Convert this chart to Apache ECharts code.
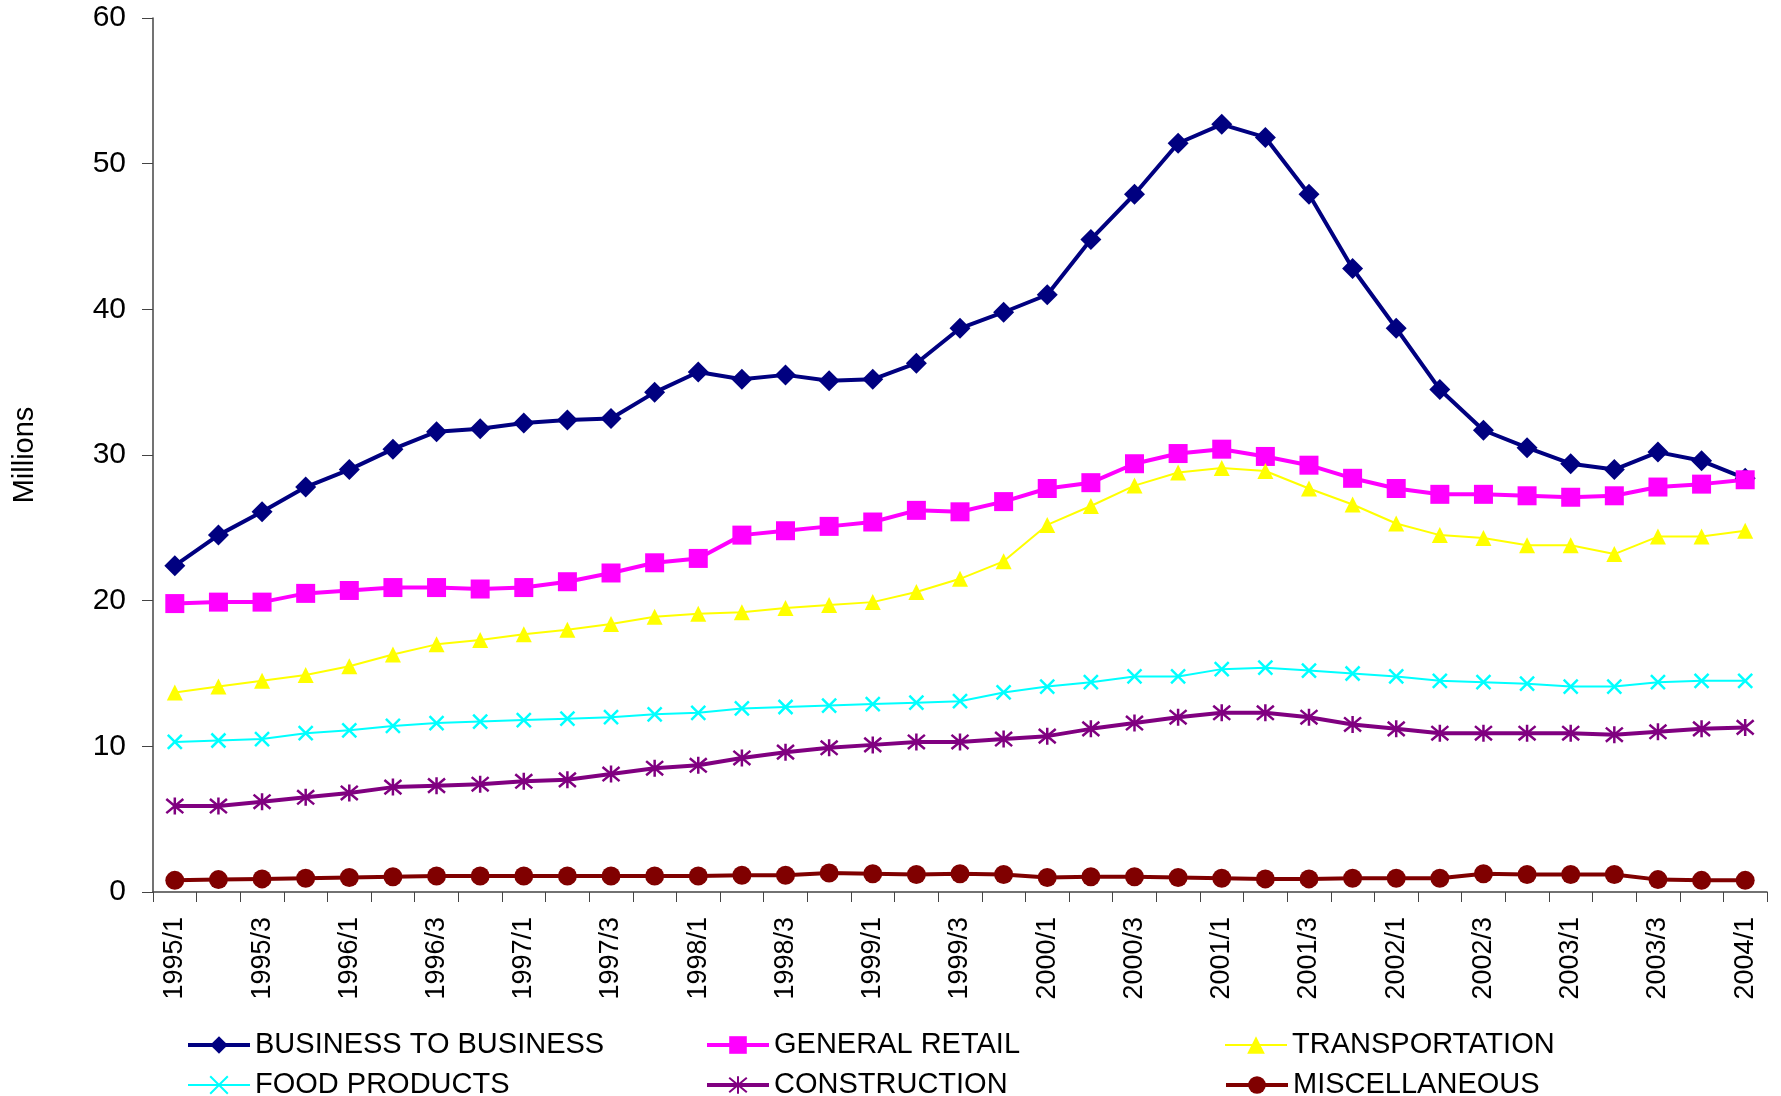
<!DOCTYPE html>
<html>
<head>
<meta charset="utf-8">
<script src="https://cdn.jsdelivr.net/npm/echarts@6/dist/echarts.min.js"></script>
<style>
  html, body { margin: 0; padding: 0; background: #fff; }
  #chart { width: 1781px; height: 1096px; }
</style>
</head>
<body>
<div id="chart"></div>
<script>
const quarters = [
  '1995/1', '1995/2', '1995/3', '1995/4', '1996/1', '1996/2', '1996/3', '1996/4',
  '1997/1', '1997/2', '1997/3', '1997/4', '1998/1', '1998/2', '1998/3', '1998/4',
  '1999/1', '1999/2', '1999/3', '1999/4', '2000/1', '2000/2', '2000/3', '2000/4',
  '2001/1', '2001/2', '2001/3', '2001/4', '2002/1', '2002/2', '2002/3', '2002/4',
  '2003/1', '2003/2', '2003/3', '2003/4', '2004/1'
]

const businessToBusiness = [
  22.4, 24.5, 26.1, 27.8, 29.0, 30.4, 31.6, 31.8, 32.2, 32.4, 32.5, 34.3, 35.7,
  35.2, 35.5, 35.1, 35.2, 36.3, 38.7, 39.8, 41.0, 44.8, 47.9, 51.4, 52.7, 51.8,
  47.9, 42.8, 38.7, 34.5, 31.7, 30.5, 29.4, 29.0, 30.2, 29.6, 28.4
]
const generalRetail = [
  19.8, 19.9, 19.9, 20.5, 20.7, 20.9, 20.9, 20.8, 20.9, 21.3, 21.9, 22.6, 22.9,
  24.5, 24.8, 25.1, 25.4, 26.2, 26.1, 26.8, 27.7, 28.1, 29.4, 30.1, 30.4, 29.9,
  29.3, 28.4, 27.7, 27.3, 27.3, 27.2, 27.1, 27.2, 27.8, 28.0, 28.3
]
const transportation = [
  13.7, 14.1, 14.5, 14.9, 15.5, 16.3, 17.0, 17.3, 17.7, 18.0, 18.4, 18.9, 19.1,
  19.2, 19.5, 19.7, 19.9, 20.6, 21.5, 22.7, 25.2, 26.5, 27.9, 28.8, 29.1, 28.9,
  27.7, 26.6, 25.3, 24.5, 24.3, 23.8, 23.8, 23.2, 24.4, 24.4, 24.8
]
const foodProducts = [
  10.3, 10.4, 10.5, 10.9, 11.1, 11.4, 11.6, 11.7, 11.8, 11.9, 12.0, 12.2, 12.3,
  12.6, 12.7, 12.8, 12.9, 13.0, 13.1, 13.7, 14.1, 14.4, 14.8, 14.8, 15.3, 15.4,
  15.2, 15.0, 14.8, 14.5, 14.4, 14.3, 14.1, 14.1, 14.4, 14.5, 14.5
]
const construction = [
  5.9, 5.9, 6.2, 6.5, 6.8, 7.2, 7.3, 7.4, 7.6, 7.7, 8.1, 8.5, 8.7,
  9.2, 9.6, 9.9, 10.1, 10.3, 10.3, 10.5, 10.7, 11.2, 11.6, 12.0, 12.3, 12.3,
  12.0, 11.5, 11.2, 10.9, 10.9, 10.9, 10.9, 10.8, 11.0, 11.2, 11.3
]
const miscellaneous = [
  0.8, 0.85, 0.9, 0.95, 1.0, 1.05, 1.1, 1.1, 1.1, 1.1, 1.1, 1.1, 1.1,
  1.15, 1.15, 1.3, 1.25, 1.2, 1.25, 1.2, 1.0, 1.05, 1.05, 1.0, 0.95, 0.9,
  0.9, 0.95, 0.95, 0.95, 1.25, 1.2, 1.2, 1.2, 0.85, 0.8, 0.8
]

const crossPath = 'path://M0,0L10,10M10,0L0,10'
const starPath = 'path://M0,0L10,10M10,0L0,10M5,-1L5,11'

const mkSeries = (name, data, color, symbol, size, width) => ({
  name,
  type: 'line',
  data,
  symbol,
  symbolSize: size,
  showAllSymbol: true,
  lineStyle: { color, width },
  itemStyle: { color, borderColor: color, borderWidth: symbol.startsWith('path') ? 2.5 : 0 },
  emphasis: { disabled: true },
  z: 2
})

const chart = echarts.init(document.getElementById('chart'))
chart.setOption({
  animation: false,
  textStyle: { fontFamily: 'Liberation Sans, Arial, sans-serif', color: '#000' },
  grid: { left: 153, right: 14, top: 18, bottom: 204 },
  legend: {
    left: 181,
    top: 1025,
    width: 1600,
    itemWidth: 62,
    itemHeight: 22,
    itemGap: 10,
    lineStyle: { width: 'inherit' },
    textStyle: { fontSize: 29, width: 440, lineHeight: 30, color: '#000' },
    data: ['BUSINESS TO BUSINESS', 'GENERAL RETAIL', 'TRANSPORTATION',
      'FOOD PRODUCTS', 'CONSTRUCTION', 'MISCELLANEOUS']
  },
  xAxis: {
    type: 'category',
    data: quarters,
    boundaryGap: true,
    axisLine: { lineStyle: { color: '#444', width: 1.5 } },
    axisTick: { show: true, interval: 0, length: 10, alignWithLabel: false, lineStyle: { color: '#444' } },
    axisLabel: { interval: 1, rotate: 90, margin: 25, fontSize: 27, color: '#000' },
    splitLine: { show: false }
  },
  yAxis: {
    type: 'value',
    min: 0,
    max: 60,
    interval: 10,
    name: 'Millions',
    nameLocation: 'middle',
    nameGap: 114,
    nameRotate: 90,
    nameTextStyle: { fontSize: 29, color: '#000' },
    axisLine: { show: true, lineStyle: { color: '#444', width: 1.5 } },
    axisTick: { show: true, length: 11, lineStyle: { color: '#444' } },
    axisLabel: { fontSize: 30, margin: 27, color: '#000' },
    splitLine: { show: false }
  },
  series: [
    mkSeries('BUSINESS TO BUSINESS', businessToBusiness, '#000080', 'diamond', 21, 4),
    mkSeries('GENERAL RETAIL', generalRetail, '#FF00FF', 'rect', 19, 4),
    mkSeries('TRANSPORTATION', transportation, '#FFFF00', 'triangle', 16, 2),
    mkSeries('FOOD PRODUCTS', foodProducts, '#00FFFF', crossPath, 14, 2),
    mkSeries('CONSTRUCTION', construction, '#800080', starPath, 17, 4),
    mkSeries('MISCELLANEOUS', miscellaneous, '#800000', 'circle', 19, 4)
  ]
})
</script>
</body>
</html>
